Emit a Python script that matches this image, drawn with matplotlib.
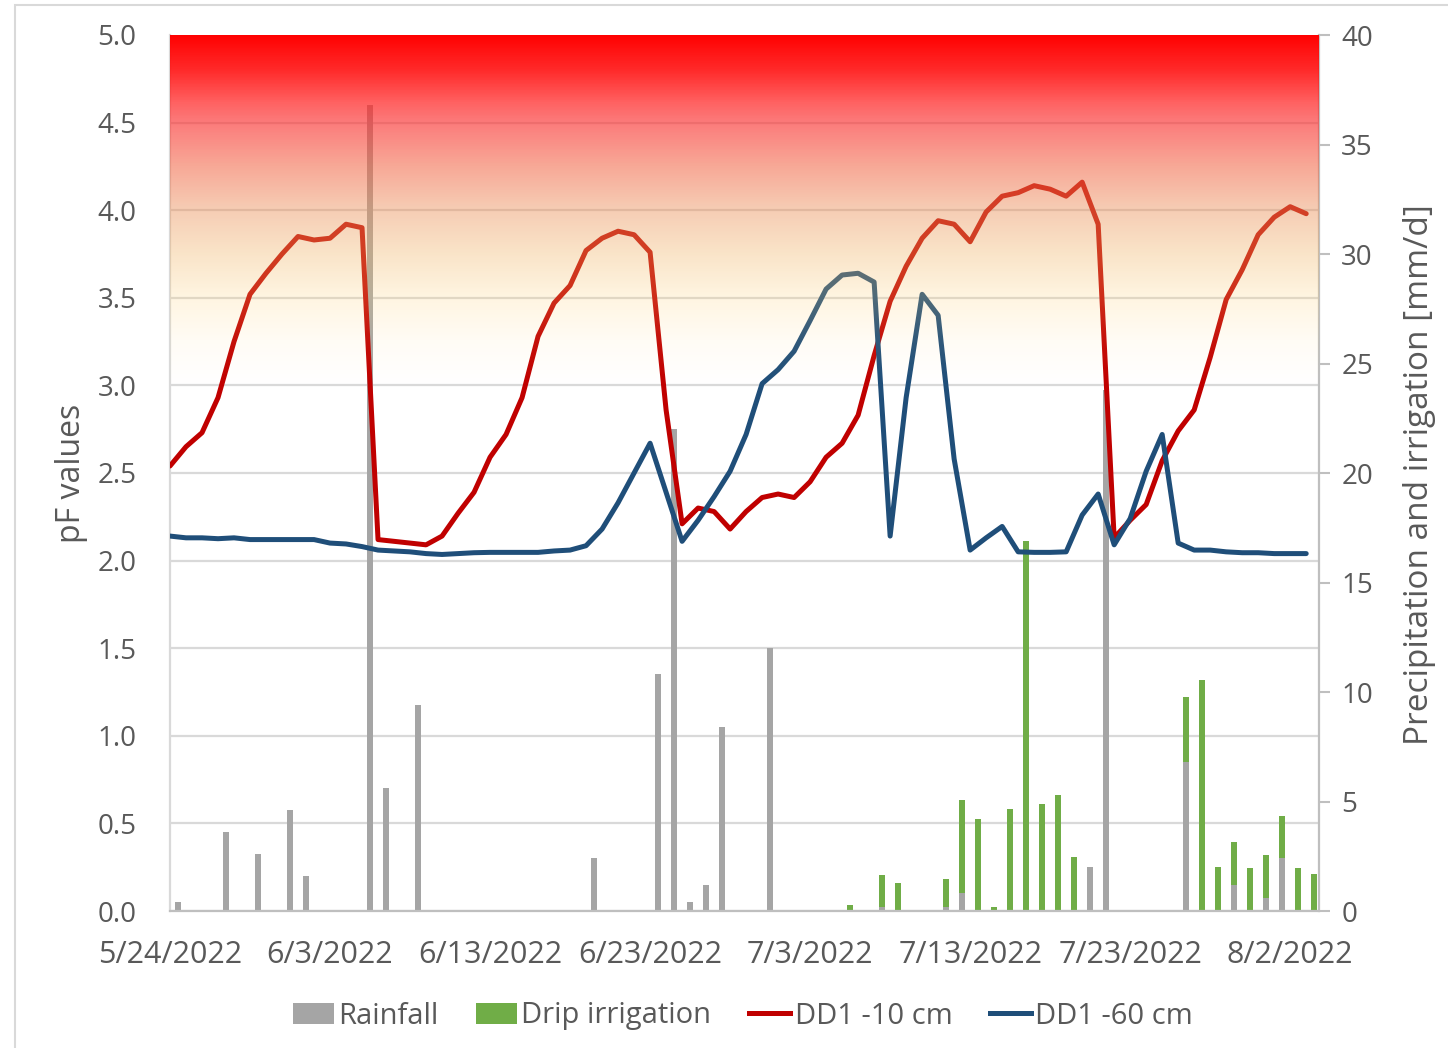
import datetime as dt

import matplotlib
matplotlib.use("Agg")
import matplotlib.pyplot as plt
import matplotlib.dates as mdates
from matplotlib.ticker import MultipleLocator, FixedLocator, FuncFormatter
from matplotlib.patches import Patch, Rectangle
from matplotlib.lines import Line2D
import numpy as np

plt.rcParams["font.family"] = ["Open Sans", "DejaVu Sans"]

# Daily series, 24 May - 3 Aug 2022
start = dt.datetime(2022, 5, 24)
n_days = 72

# pF at -10 cm and -60 cm
pf_10cm = [
    2.54, 2.65, 2.73, 2.93, 3.25, 3.52, 3.64, 3.75, 3.85, 3.83,
    3.84, 3.92, 3.90, 2.12, 2.11, 2.10, 2.09, 2.14, 2.27, 2.39,
    2.59, 2.72, 2.93, 3.28, 3.47, 3.57, 3.77, 3.84, 3.88, 3.86,
    3.76, 2.86, 2.21, 2.30, 2.28, 2.18, 2.28, 2.36, 2.38, 2.36,
    2.45, 2.59, 2.67, 2.83, 3.17, 3.48, 3.68, 3.84, 3.94, 3.92,
    3.82, 3.99, 4.08, 4.10, 4.14, 4.12, 4.08, 4.16, 3.92, 2.13,
    2.23, 2.32, 2.57, 2.74, 2.86, 3.16, 3.49, 3.66, 3.86, 3.96,
    4.02, 3.98,
]
pf_60cm = [
    2.14, 2.13, 2.13, 2.125, 2.13, 2.12, 2.12, 2.12, 2.12, 2.12,
    2.10, 2.095, 2.08, 2.06, 2.055, 2.05, 2.04, 2.035, 2.04, 2.045,
    2.047, 2.047, 2.047, 2.047, 2.055, 2.06, 2.085, 2.18, 2.33, 2.50,
    2.67, 2.39, 2.11, 2.23, 2.365, 2.51, 2.72, 3.01, 3.09, 3.195,
    3.37, 3.55, 3.63, 3.64, 3.59, 2.14, 2.93, 3.52, 3.40, 2.58,
    2.06, 2.13, 2.195, 2.05, 2.047, 2.047, 2.05, 2.26, 2.38, 2.09,
    2.24, 2.51, 2.72, 2.10, 2.06, 2.06, 2.05, 2.045, 2.045, 2.04,
    2.04, 2.04,
]

# mm/d
rainfall = [
    0.4, 0, 0, 3.6, 0, 2.6, 0, 4.6, 1.6, 0,
    0, 0, 36.8, 5.6, 0, 9.4, 0, 0, 0, 0,
    0, 0, 0, 0, 0, 0, 2.4, 0, 0, 0,
    10.8, 22.0, 0.4, 1.2, 8.4, 0, 0, 12.0, 0, 0,
    0, 0, 0, 0, 0.2, 0, 0, 0, 0.2, 0.8,
    0, 0, 0, 0, 0, 0, 0, 2.0, 23.8, 0,
    0, 0, 0, 6.8, 0, 0, 1.2, 0, 0.6, 2.4,
    0, 0,
]
drip_irrigation = [
    0, 0, 0, 0, 0, 0, 0, 0, 0, 0,
    0, 0, 0, 0, 0, 0, 0, 0, 0, 0,
    0, 0, 0, 0, 0, 0, 0, 0, 0, 0,
    0, 0, 0, 0, 0, 0, 0, 0, 0, 0,
    0, 0, 0.27, 0, 1.45, 1.3, 0, 0, 1.25, 4.25,
    4.2, 0.17, 4.65, 16.9, 4.9, 5.3, 2.45, 0, 0, 0,
    0, 0, 0, 2.95, 10.55, 2.0, 1.95, 1.95, 1.95, 1.95,
    1.95, 1.7,
]

dates = [start + dt.timedelta(days=i) for i in range(n_days)]
bar_dates = [d + dt.timedelta(hours=12) for d in dates]
tick_dates = [start + dt.timedelta(days=10 * k) for k in range(8)]

TEXT = "#595959"
GRID = "#D9D9D9"
AXIS = "#BFBFBF"

fig = plt.figure(figsize=(14.48, 10.48), dpi=100)
W, H = 1448, 1048
left, right, top, bottom = 170, 1319, 35, 911
ax = fig.add_axes([left / W, 1 - bottom / H, (right - left) / W, (bottom - top) / H])
axr = ax.twinx()

# bars sit on the lower (right-hand) axes, lines on the upper one
ax.set_zorder(2)
axr.set_zorder(1)
ax.patch.set_visible(False)
axr.patch.set_facecolor("white")

axr.bar(bar_dates, rainfall, width=0.38, color="#A5A5A5", zorder=2)
axr.bar(bar_dates, drip_irrigation, width=0.38, bottom=rainfall,
        color="#70AD47", zorder=2)

ax.plot(dates, pf_10cm, color="#C00000", lw=3.6, zorder=3,
        solid_joinstyle="round", solid_capstyle="round")
ax.plot(dates, pf_60cm, color="#1F4E79", lw=3.6, zorder=3,
        solid_joinstyle="round", solid_capstyle="round")

x0 = mdates.date2num(start)
x1 = x0 + 71.8

# dry-zone shading above pF 3: translucent red -> cream wash over the data
stops_pf = [3.0, 3.25, 3.5, 3.75, 4.0, 4.25, 4.5, 4.6, 4.8, 5.0]
stops_rgb = [(255, 255, 255), (255, 252, 245), (255, 245, 225), (250, 228, 200),
             (246, 205, 180), (248, 168, 150), (252, 122, 122), (255, 100, 100),
             (255, 40, 40), (255, 0, 0)]
stops_alpha = [0.0, 0.08, 0.22, 0.35, 0.45, 0.55, 0.65, 0.72, 0.9, 1.0]
yy = np.linspace(3.0, 5.0, 600)
seen = np.stack([np.interp(yy, stops_pf, [c[k] for c in stops_rgb])
                 for k in range(3)], axis=-1) / 255.0
alpha = np.interp(yy, stops_pf, stops_alpha)
rgb = 1 - (1 - seen) / np.maximum(alpha, 1e-6)[:, None]
rgba = np.concatenate([np.clip(rgb, 0, 1), alpha[:, None]], axis=1)[:, None, :]
ax.imshow(rgba, extent=[x0, x1, 3.0, 5.0], origin="lower", aspect="auto",
          interpolation="nearest", zorder=5)

ax.set_xlim(x0, x1)
ax.set_ylim(0, 5)
axr.set_ylim(0, 40)

ax.xaxis.set_major_locator(FixedLocator(mdates.date2num(tick_dates)))
ax.xaxis.set_major_formatter(FuncFormatter(
    lambda v, p: "{0.month}/{0.day}/{0.year}".format(mdates.num2date(v))))
ax.yaxis.set_major_locator(MultipleLocator(0.5))
ax.yaxis.set_major_formatter(FuncFormatter(lambda v, p: f"{v:.1f}"))
axr.yaxis.set_major_locator(MultipleLocator(5))

# grid lives on the lower axes so the bars cover it
axr.yaxis.set_minor_locator(MultipleLocator(4))
axr.yaxis.remove_overlapping_locs = False
axr.grid(True, which="minor", axis="y", color=GRID, lw=1.6)
axr.xaxis.grid(True, which="major", color=GRID, lw=1.6)
axr.set_axisbelow(True)

ax.tick_params(axis="y", length=0, pad=24, labelsize=20, labelcolor=TEXT)
ax.tick_params(axis="x", length=0, pad=21, labelsize=22, labelcolor=TEXT)
axr.tick_params(axis="y", which="major", direction="out", length=8, width=1.5,
                color=AXIS, pad=8, labelsize=20, labelcolor=TEXT)
axr.tick_params(axis="y", which="minor", length=0)

for s in ax.spines.values():
    s.set_visible(False)
axr.spines["top"].set_visible(False)
axr.spines["left"].set_color(GRID)
axr.spines["left"].set_linewidth(1.6)
axr.spines["bottom"].set_color(AXIS)
axr.spines["bottom"].set_linewidth(1.6)
axr.spines["right"].set_color(AXIS)
axr.spines["right"].set_linewidth(1.6)

fig.text(71 / W, 1 - 473 / H, "pF values", rotation=90, ha="center",
         va="center", fontsize=23, color=TEXT)
fig.text(1419 / W, 1 - 475 / H, "Precipitation and irrigation [mm/d]",
         rotation=90, ha="center", va="center", fontsize=24, color=TEXT)

handles = [
    Patch(facecolor="#A5A5A5", edgecolor="none"),
    Patch(facecolor="#70AD47", edgecolor="none"),
    Line2D([], [], color="#C00000", lw=3.6),
    Line2D([], [], color="#1F4E79", lw=3.6),
]
labels = ["Rainfall", "Drip irrigation", "DD1 -10 cm", "DD1 -60 cm"]
leg = fig.legend(handles, labels, loc="center", ncol=4, frameon=False,
                 bbox_to_anchor=(743 / W, 1 - 1016 / H), fontsize=21,
                 handlelength=1.4, handleheight=0.7, handletextpad=0.15,
                 columnspacing=1.3)
for t in leg.get_texts():
    t.set_color(TEXT)

# chart frame
fig.add_artist(Rectangle((15 / W, -0.1), 1.2, 1.1 - 5 / H,
                         transform=fig.transFigure, fill=False,
                         edgecolor=GRID, lw=1.5))

fig.savefig("out.png", dpi=100)
